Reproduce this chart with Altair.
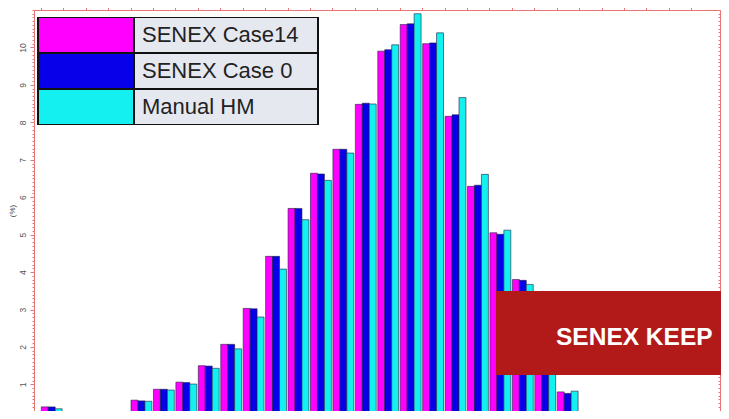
import altair as alt
import pandas as pd

# ---- data ----
bins = list(range(1, 31))
series = ["SENEX Case14", "SENEX Case 0", "Manual HM"]
colors = ["#FF00FF", "#0800E8", "#14F0F0"]
case14 = [0.40, 0.10, 0.17, 0.27, 0.58, 0.87, 1.06, 1.50, 2.07, 3.03, 4.42, 5.70, 6.64,
          7.28, 8.48, 9.90, 10.61, 10.10, 8.16, 6.29, 5.05, 3.80, 2.30, 0.80, 0.25, 0.08]
case0 = [0.40, 0.10, 0.17, 0.27, 0.56, 0.87, 1.05, 1.49, 2.07, 3.02, 4.42, 5.70, 6.62,
         7.28, 8.51, 9.94, 10.63, 10.12, 8.20, 6.32, 5.01, 3.78, 2.25, 0.76, 0.24, 0.08]
manual = [0.35, 0.13, 0.15, 0.24, 0.55, 0.85, 1.01, 1.43, 1.95, 2.80, 4.08, 5.40, 6.45,
          7.18, 8.49, 10.07, 10.90, 10.39, 8.66, 6.61, 5.12, 3.67, 2.35, 0.82, 0.27, 0.05]
y_labels = [1, 2, 3, 4, 5, 6, 7, 8, 9, 10]
minor_ticks = [round(i * 0.1, 1) for i in range(3, 111)]
y_domain = [0.29, 11]          # bottom of the visible window (the 0 line lies just below it)
banner_text = ["SENEX KEEP"]

rows = []
for s, vals in zip(series, [case14, case0, manual]):
    for b, v in zip(bins, vals):
        rows.append({"bin": b, "series": s, "value": v})
df = pd.DataFrame(rows)
banner_df = pd.DataFrame({"label": banner_text})

W, H = 686, 401
RED = "#E87474"
SWATCH = "M-1,-1.0588L4.765,-1.0588L4.765,1.0588L-1,1.0588Z"
CELL = "M0.588,-1.0588L11.411,-1.0588L11.411,1.0588L0.588,1.0588Z"
BLANK = "\u2800"   # blank glyph (not trimmed as whitespace) used to widen legend entries

yscale = alt.Scale(domain=y_domain, nice=False, zero=False)

bars = alt.Chart(df).mark_bar(stroke="#202040", strokeWidth=0.6, clip=True).encode(
    x=alt.X("bin:O",
            scale=alt.Scale(domain=bins, paddingInner=0.07, paddingOuter=0.325),
            axis=alt.Axis(orient="top", labels=False, title="", bandPosition=0,
                          tickSize=3, tickColor=RED, domainColor=RED, grid=False)),
    xOffset=alt.XOffset("series:N", sort=series,
                        scale=alt.Scale(domain=series, paddingInner=0, paddingOuter=0)),
    y=alt.Y("value:Q", scale=yscale,
            axis=alt.Axis(orient="left", values=y_labels, title="(%)", labelAngle=270,
                          labelAlign="center", labelBaseline="middle", labelFontSize=8.5,
                          labelColor="#555", labelFont="Liberation Sans", labelPadding=8,
                          tickSize=4, tickColor=RED, domainColor=RED, grid=False,
                          titleAngle=270, titleFontSize=8, titleFontWeight="normal",
                          titleColor="#444", titleFont="Liberation Sans", titlePadding=2,
                          labelOverlap=False)),
    fill=alt.Fill("series:N", sort=series,
                  scale=alt.Scale(domain=series, range=colors),
                  legend=alt.Legend(orient="none", legendX=3, legendY=7, direction="vertical",
                                    title=None, symbolType=SWATCH, symbolSize=1156,
                                    symbolStrokeColor="#111", symbolStrokeWidth=2,
                                    symbolOpacity=1, labelExpr="'" + BLANK * 6 + "'",
                                    labelFontSize=22, padding=0, rowPadding=0,
                                    clipHeight=36, labelOffset=0, labelLimit=400)),
)

legend_cells = alt.Chart(df).mark_point(filled=True, fill="#E6E8F0", strokeWidth=2,
                                        opacity=0).encode(
    y=alt.Y("value:Q", scale=yscale,
            axis=alt.Axis(orient="left", values=minor_ticks, labels=False, title="",
                          tickSize=2, tickColor=RED, domain=False, grid=False)),
    stroke=alt.Stroke("series:N", sort=series,
                      scale=alt.Scale(domain=series, range=["#111", "#111", "#111"]),
                      legend=alt.Legend(orient="none", legendX=72, legendY=7,
                                        direction="vertical", title=None, symbolType=CELL,
                                        symbolSize=1156, symbolStrokeWidth=2,
                                        symbolOpacity=1, symbolFillColor="#E6E8F0",
                                        labelExpr="datum.label + '" + BLANK * 3 + "'",
                                        labelFontSize=22, labelFont="Liberation Sans",
                                        labelColor="#222", labelOffset=0, padding=0,
                                        rowPadding=0, clipHeight=36, labelLimit=400)),
)

right_ticks = alt.Chart(df).mark_point(opacity=0).encode(
    y=alt.Y("value:Q", scale=yscale,
            axis=alt.Axis(orient="right", values=minor_ticks, labels=False, title="",
                          tickSize=2, tickColor=RED, domain=False, grid=False,
                          offset=alt.ExprRef(expr="-2"))),
)

banner_box = alt.Chart(banner_df).mark_rect(color="#B21A1A").encode(
    x=alt.value(462), x2=alt.value(700), y=alt.value(281), y2=alt.value(365)
)
banner_label = alt.Chart(banner_df).mark_text(
    color="white", font="Liberation Sans", fontWeight="bold", fontSize=24.5,
    align="left", baseline="alphabetic"
).encode(x=alt.value(522), y=alt.value(335), text="label:N")

chart = alt.layer(bars, legend_cells, right_ticks, banner_box, banner_label).resolve_axis(
    y="independent"
).resolve_legend(stroke="independent").properties(
    width=W, height=H,
    autosize=alt.AutoSizeParams(type="none"),
    padding={"left": 26, "top": 2, "right": 1, "bottom": 0},
).configure_view(stroke=RED, strokeWidth=1)

chart.save("out.html", embed_options={"renderer": "svg", "actions": False})
